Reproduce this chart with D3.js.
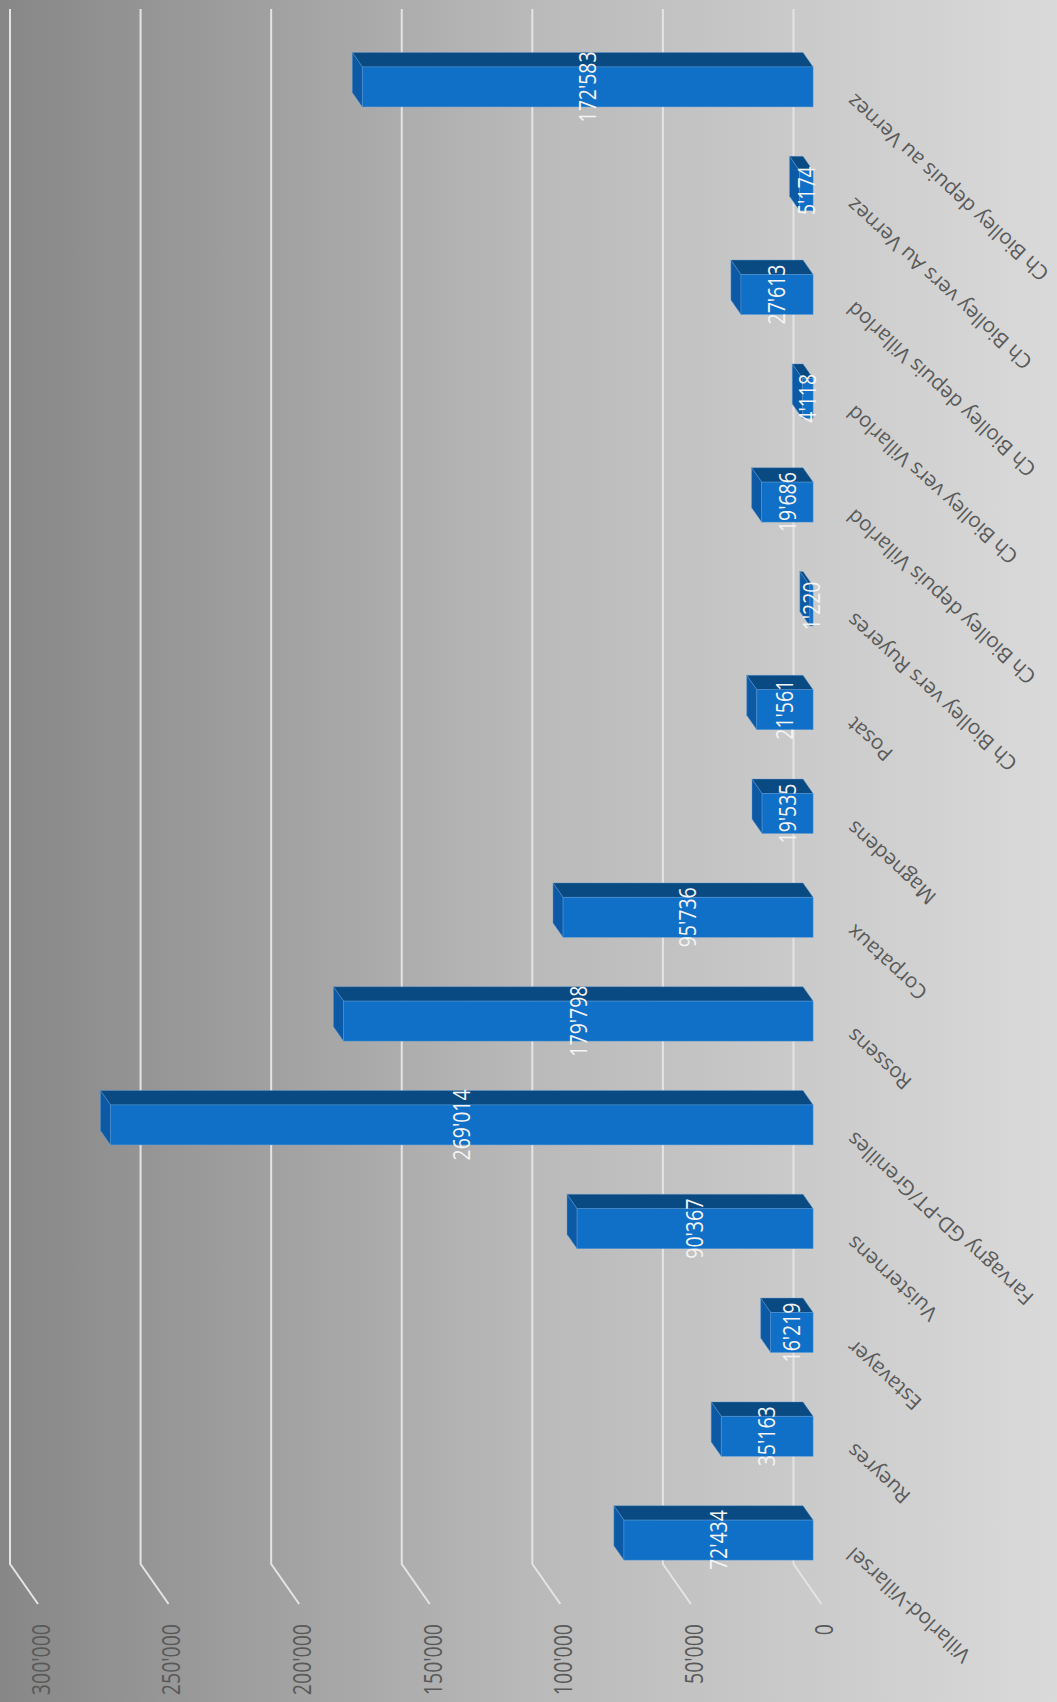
<!DOCTYPE html>
<html>
<head>
<meta charset="utf-8">
<script src="https://cdn.jsdelivr.net/npm/d3@7/dist/d3.min.js"></script>
<style>
  html, body { margin: 0; padding: 0; background: #ffffff; }
  svg { display: block; }
</style>
</head>
<body>
<svg id="chart" width="1057" height="1702"></svg>
<script>
// ---- data (first category at the bottom of the page) ----
const categories = [
  "Villarlod-Villarsel",
  "Rueyres",
  "Estavayer",
  "Vuisternens",
  "Farvagny GD-PT/Grenilles",
  "Rossens",
  "Corpataux",
  "Magnedens",
  "Posat",
  "Ch Biolley vers Ruyeres",
  "Ch Biolley depuis Villarlod",
  "Ch Biolley vers Villarlod",
  "Ch Biolley depuis Villarlod",
  "Ch Biolley vers Au Vernez",
  "Ch Biolley depuis au Vernez"
];
const values = [72434, 35163, 16219, 90367, 269014, 179798, 95736, 19535, 21561, 1220, 19686, 4118, 27613, 5174, 172583];
const tickValues = [0, 50000, 100000, 150000, 200000, 250000, 300000];
const tickLabels = ["0", "50'000", "100'000", "150'000", "200'000", "250'000", "300'000"];

// ---- layout ----
const W = 1057, H = 1702;
const wallTop = 9, wallBottom = 1564;
const depth = [28, 40];            // back wall -> front edge (screen)
const barBackF = 0.34, barFrontF = 0.70;
const barHalf = 20;

const svg = d3.select("#chart");

// background gradient
const defs = svg.append("defs");
const grad = defs.append("linearGradient").attr("id", "bg")
  .attr("x1", "0%").attr("x2", "100%").attr("y1", "0%").attr("y2", "0%");
grad.append("stop").attr("offset", "0%").attr("stop-color", "#878787");
grad.append("stop").attr("offset", "50%").attr("stop-color", "#b9b9b9");
grad.append("stop").attr("offset", "100%").attr("stop-color", "#dadada");
svg.append("rect").attr("width", W).attr("height", H).attr("fill", "url(#bg)");

// scales (value axis runs right -> left, categories bottom -> top)
const x = d3.scaleLinear().domain([0, 300000]).range([793.5, 10]);
const y = d3.scaleBand().domain(d3.range(categories.length)).range([wallBottom, 7]).padding(0);
const bw = y.bandwidth();
const fmt = d3.formatLocale({ decimal: ".", thousands: "'", grouping: [3], currency: ["", ""] }).format(",");

// gridlines (back wall + side wall)
svg.append("g").selectAll("path").data(tickValues).join("path")
  .attr("d", t => `M${x(t)},${wallTop}V${wallBottom}L${x(t) + depth[0]},${wallBottom + depth[1]}`)
  .attr("fill", "none")
  .attr("stroke", "#e4e4e4")
  .attr("stroke-width", 2);

// tick labels
svg.append("g").selectAll("text").data(tickValues).join("text")
  .attr("transform", t => `translate(${x(t) + depth[0] + 3},1624) rotate(-90) scale(1,1.3)`)
  .attr("text-anchor", "end")
  .attr("dy", "0.35em")
  .attr("font-family", "'Open Sans', sans-serif")
  .attr("font-size", 19.5)
  .attr("fill", "#595959")
  .text((t, i) => tickLabels[i]);

// bars
const fo = [depth[0] * barFrontF, depth[1] * barFrontF];
const bo = [depth[0] * barBackF, depth[1] * barBackF];
const bars = values.map((v, i) => {
  const cy = y(i) + bw / 2;
  return {
    v, i,
    xl: x(v) + fo[0], xr: x(0) + fo[0], yt: cy - barHalf + fo[1], yb: cy + barHalf + fo[1],
    xlb: x(v) + bo[0], xrb: x(0) + bo[0], ytb: cy - barHalf + bo[1], ybb: cy + barHalf + bo[1],
    cyf: cy + fo[1]
  };
});
const gb = svg.append("g");
const barG = gb.selectAll("g").data(bars).join("g");
barG.append("path")
  .attr("d", b => `M${b.xl},${b.yt}L${b.xr},${b.yt}L${b.xrb},${b.ytb}L${b.xlb},${b.ytb}Z`)
  .attr("fill", "#0a4a83").attr("stroke", "#5f9bd6").attr("stroke-width", 0.6).attr("stroke-opacity", 0.7);
barG.append("path")
  .attr("d", b => `M${b.xl},${b.yt}L${b.xl},${b.yb}L${b.xlb},${b.ybb}L${b.xlb},${b.ytb}Z`)
  .attr("fill", "#0c5aa6").attr("stroke", "#5f9bd6").attr("stroke-width", 0.6).attr("stroke-opacity", 0.7);
barG.append("rect")
  .attr("x", b => b.xl).attr("y", b => b.yt)
  .attr("width", b => b.xr - b.xl).attr("height", b => b.yb - b.yt)
  .attr("fill", "#1070c8").attr("stroke", "#5f9bd6").attr("stroke-width", 0.6).attr("stroke-opacity", 0.7);

// value labels
svg.append("g").selectAll("text").data(bars).join("text")
  .attr("transform", b => `translate(${(b.xl + b.xr) / 2},${b.cyf}) rotate(-90) scale(1,1.2)`)
  .attr("text-anchor", "middle")
  .attr("dy", "0.35em")
  .attr("font-family", "'Open Sans', sans-serif")
  .attr("font-size", 19.5)
  .attr("fill", "#f4f4f4")
  .text(b => fmt(b.v));

// category labels
svg.append("g").selectAll("text").data(bars).join("text")
  .attr("transform", b => `translate(855,${b.cyf + 6}) rotate(-137.5)`)
  .attr("text-anchor", "end")
  .attr("font-family", "'Open Sans', sans-serif")
  .attr("font-size", 20.6)
  .attr("fill", "#5a5a5a")
  .text(b => categories[b.i]);
</script>
</body>
</html>
